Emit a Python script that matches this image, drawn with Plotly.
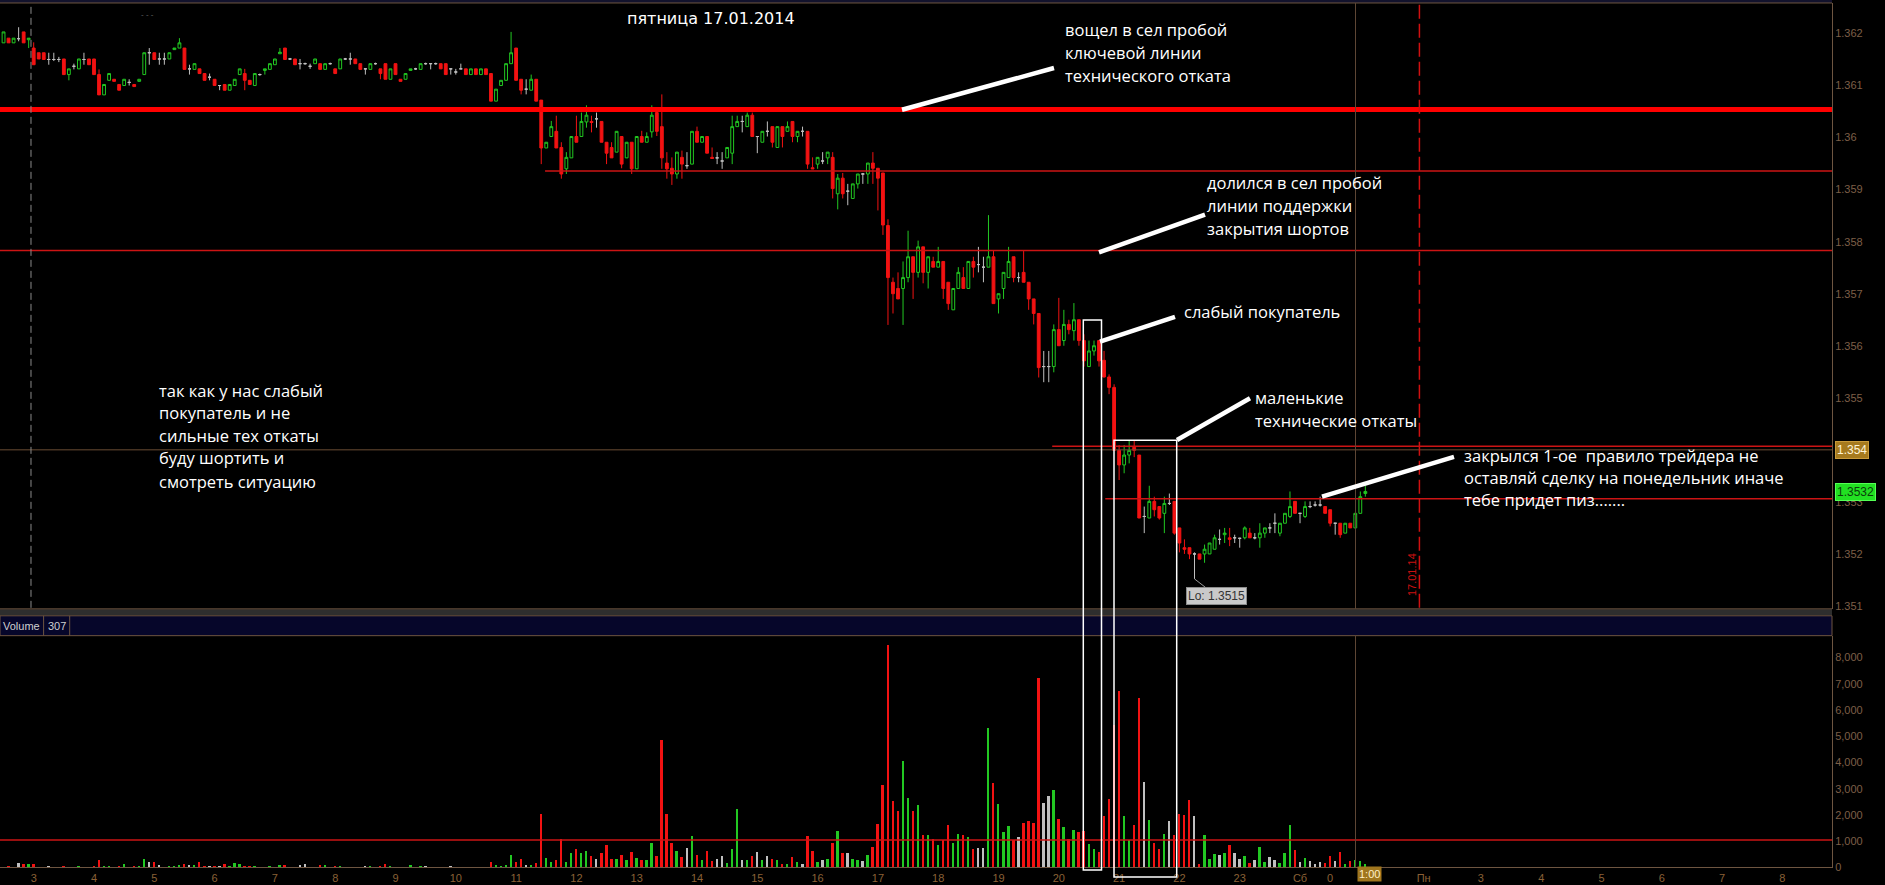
import plotly.graph_objects as go

W, H = 1885, 885

# ---------------- data (5-minute bars, EURUSD-like, Fri 17.01.2014) ----------------
START_HOUR = 2.5      # hour of the first bar
BAR_MINUTES = 5

OPEN = [
    1.36182, 1.36191, 1.36182, 1.36190, 1.36203, 1.36188, 1.36172, 1.36163, 1.36163, 1.36150,
    1.36150, 1.36150, 1.36151, 1.36121, 1.36137, 1.36132, 1.36150, 1.36151, 1.36151, 1.36121,
    1.36082, 1.36110, 1.36112, 1.36102, 1.36100, 1.36106, 1.36102, 1.36108, 1.36121, 1.36163,
    1.36163, 1.36151, 1.36151, 1.36151, 1.36169, 1.36172, 1.36172, 1.36132, 1.36131, 1.36132,
    1.36123, 1.36116, 1.36112, 1.36100, 1.36102, 1.36091, 1.36100, 1.36121, 1.36123, 1.36110,
    1.36100, 1.36121, 1.36129, 1.36131, 1.36140, 1.36161, 1.36172, 1.36151, 1.36151, 1.36142,
    1.36142, 1.36137, 1.36142, 1.36142, 1.36131, 1.36142, 1.36132, 1.36132, 1.36151, 1.36151,
    1.36151, 1.36142, 1.36132, 1.36131, 1.36142, 1.36132, 1.36142, 1.36112, 1.36142, 1.36112,
    1.36112, 1.36129, 1.36132, 1.36131, 1.36142, 1.36142, 1.36142, 1.36142, 1.36142, 1.36132,
    1.36126, 1.36132, 1.36132, 1.36121, 1.36132, 1.36121, 1.36132, 1.36123, 1.36070, 1.36100,
    1.36110, 1.36142, 1.36172, 1.36112, 1.36093, 1.36091, 1.36112, 1.36072, 1.35980, 1.36002,
    1.36012, 1.35981, 1.35940, 1.35961, 1.36002, 1.36002, 1.36030, 1.36031, 1.36036, 1.36031,
    1.35991, 1.35981, 1.35972, 1.36002, 1.35961, 1.35991, 1.35940, 1.36002, 1.35991, 1.36011,
    1.36048, 1.36021, 1.35951, 1.35941, 1.35930, 1.35962, 1.35946, 1.35949, 1.36012, 1.35991,
    1.36002, 1.35962, 1.35961, 1.35955, 1.35961, 1.35970, 1.36021, 1.36031, 1.36021, 1.36043,
    1.36002, 1.35991, 1.36012, 1.36021, 1.35981, 1.36021, 1.36012, 1.36031, 1.36002, 1.36012,
    1.36012, 1.35942, 1.35949, 1.35955, 1.35961, 1.35962, 1.35892, 1.35922, 1.35897, 1.35883,
    1.35911, 1.35930, 1.35930, 1.35951, 1.35941, 1.35932, 1.35831, 1.35722, 1.35710, 1.35710,
    1.35731, 1.35771, 1.35741, 1.35790, 1.35741, 1.35762, 1.35751, 1.35762, 1.35722, 1.35669,
    1.35710, 1.35731, 1.35710, 1.35762, 1.35756, 1.35751, 1.35751, 1.35771, 1.35690, 1.35710,
    1.35731, 1.35771, 1.35731, 1.35741, 1.35722, 1.35690, 1.35662, 1.35560, 1.35560, 1.35560,
    1.35631, 1.35610, 1.35641, 1.35629, 1.35650, 1.35610, 1.35560, 1.35590, 1.35610, 1.35572,
    1.35540, 1.35520, 1.35399, 1.35371, 1.35390, 1.35405, 1.35390, 1.35272, 1.35269, 1.35301,
    1.35291, 1.35278, 1.35297, 1.35301, 1.35250, 1.35212, 1.35212, 1.35200, 1.35200, 1.35200,
    1.35200, 1.35209, 1.35228, 1.35237, 1.35231, 1.35231, 1.35230, 1.35231, 1.35240, 1.35231,
    1.35231, 1.35240, 1.35250, 1.35259, 1.35240, 1.35259, 1.35272, 1.35301, 1.35278, 1.35272,
    1.35291, 1.35294, 1.35294, 1.35291, 1.35285, 1.35259, 1.35259, 1.35240, 1.35259, 1.35250,
    1.35278, 1.35316,
]

CLOSE = [
    1.36203, 1.36182, 1.36191, 1.36190, 1.36182, 1.36191, 1.36140, 1.36151, 1.36150, 1.36150,
    1.36150, 1.36150, 1.36121, 1.36132, 1.36137, 1.36151, 1.36150, 1.36140, 1.36121, 1.36082,
    1.36102, 1.36123, 1.36108, 1.36091, 1.36112, 1.36106, 1.36098, 1.36112, 1.36163, 1.36163,
    1.36150, 1.36151, 1.36151, 1.36163, 1.36172, 1.36182, 1.36131, 1.36132, 1.36142, 1.36123,
    1.36110, 1.36116, 1.36100, 1.36100, 1.36091, 1.36102, 1.36112, 1.36132, 1.36110, 1.36102,
    1.36123, 1.36121, 1.36132, 1.36142, 1.36151, 1.36164, 1.36150, 1.36151, 1.36140, 1.36142,
    1.36142, 1.36137, 1.36151, 1.36131, 1.36142, 1.36142, 1.36123, 1.36151, 1.36151, 1.36151,
    1.36142, 1.36131, 1.36132, 1.36142, 1.36142, 1.36123, 1.36112, 1.36132, 1.36121, 1.36108,
    1.36123, 1.36132, 1.36132, 1.36142, 1.36142, 1.36142, 1.36142, 1.36132, 1.36121, 1.36132,
    1.36126, 1.36132, 1.36121, 1.36132, 1.36121, 1.36132, 1.36121, 1.36070, 1.36093, 1.36110,
    1.36142, 1.36163, 1.36110, 1.36091, 1.36093, 1.36112, 1.36070, 1.35980, 1.35991, 1.36021,
    1.35980, 1.35930, 1.35962, 1.36002, 1.35991, 1.36031, 1.36043, 1.36029, 1.36036, 1.35991,
    1.35970, 1.35961, 1.36012, 1.35949, 1.35991, 1.35940, 1.36002, 1.35991, 1.36002, 1.36043,
    1.36012, 1.35961, 1.35940, 1.35930, 1.35972, 1.35949, 1.35946, 1.36012, 1.35991, 1.36002,
    1.35970, 1.35960, 1.35961, 1.35955, 1.35981, 1.36021, 1.36031, 1.36031, 1.36043, 1.36002,
    1.36002, 1.36012, 1.36012, 1.35991, 1.36021, 1.36002, 1.36021, 1.36002, 1.36012, 1.36012,
    1.35949, 1.35940, 1.35962, 1.35955, 1.35972, 1.35902, 1.35922, 1.35892, 1.35897, 1.35911,
    1.35930, 1.35930, 1.35951, 1.35941, 1.35922, 1.35832, 1.35731, 1.35700, 1.35690, 1.35731,
    1.35771, 1.35741, 1.35790, 1.35741, 1.35771, 1.35751, 1.35762, 1.35710, 1.35681, 1.35710,
    1.35741, 1.35710, 1.35762, 1.35751, 1.35756, 1.35751, 1.35771, 1.35681, 1.35700, 1.35741,
    1.35762, 1.35731, 1.35731, 1.35722, 1.35690, 1.35662, 1.35558, 1.35560, 1.35560, 1.35631,
    1.35600, 1.35641, 1.35631, 1.35650, 1.35610, 1.35571, 1.35590, 1.35600, 1.35571, 1.35540,
    1.35520, 1.35399, 1.35371, 1.35390, 1.35399, 1.35399, 1.35269, 1.35272, 1.35301, 1.35285,
    1.35269, 1.35297, 1.35297, 1.35240, 1.35221, 1.35209, 1.35200, 1.35200, 1.35190, 1.35209,
    1.35221, 1.35231, 1.35228, 1.35240, 1.35228, 1.35231, 1.35230, 1.35250, 1.35231, 1.35231,
    1.35240, 1.35250, 1.35250, 1.35259, 1.35259, 1.35278, 1.35291, 1.35278, 1.35278, 1.35291,
    1.35291, 1.35294, 1.35294, 1.35278, 1.35259, 1.35259, 1.35237, 1.35259, 1.35250, 1.35278,
    1.35310, 1.35320,
]

HIGH = [
    1.36203, 1.36191, 1.36191, 1.36212, 1.36203, 1.36191, 1.36183, 1.36163, 1.36163, 1.36163,
    1.36163, 1.36155, 1.36151, 1.36132, 1.36142, 1.36151, 1.36163, 1.36151, 1.36151, 1.36131,
    1.36102, 1.36123, 1.36112, 1.36102, 1.36112, 1.36112, 1.36102, 1.36112, 1.36163, 1.36172,
    1.36163, 1.36163, 1.36163, 1.36163, 1.36172, 1.36191, 1.36172, 1.36140, 1.36142, 1.36132,
    1.36123, 1.36123, 1.36112, 1.36100, 1.36102, 1.36102, 1.36112, 1.36132, 1.36132, 1.36110,
    1.36123, 1.36123, 1.36132, 1.36142, 1.36151, 1.36172, 1.36172, 1.36153, 1.36151, 1.36151,
    1.36144, 1.36142, 1.36151, 1.36142, 1.36142, 1.36144, 1.36132, 1.36151, 1.36153, 1.36163,
    1.36151, 1.36142, 1.36132, 1.36142, 1.36144, 1.36132, 1.36142, 1.36132, 1.36142, 1.36112,
    1.36123, 1.36132, 1.36134, 1.36142, 1.36144, 1.36142, 1.36144, 1.36142, 1.36142, 1.36132,
    1.36132, 1.36142, 1.36132, 1.36132, 1.36132, 1.36132, 1.36132, 1.36123, 1.36093, 1.36110,
    1.36142, 1.36203, 1.36172, 1.36112, 1.36112, 1.36121, 1.36112, 1.36072, 1.35991, 1.36032,
    1.36042, 1.35991, 1.35972, 1.36002, 1.36042, 1.36048, 1.36062, 1.36042, 1.36048, 1.36031,
    1.35991, 1.35991, 1.36012, 1.36002, 1.35991, 1.35991, 1.36002, 1.36013, 1.36010, 1.36062,
    1.36054, 1.36083, 1.35972, 1.35962, 1.35972, 1.35975, 1.35972, 1.36012, 1.36021, 1.36002,
    1.36002, 1.35981, 1.35972, 1.35972, 1.35981, 1.36042, 1.36042, 1.36042, 1.36048, 1.36048,
    1.36002, 1.36012, 1.36031, 1.36021, 1.36021, 1.36021, 1.36031, 1.36031, 1.36012, 1.36021,
    1.36012, 1.35962, 1.35962, 1.35972, 1.35972, 1.35972, 1.35930, 1.35932, 1.35911, 1.35911,
    1.35930, 1.35932, 1.35951, 1.35972, 1.35941, 1.35932, 1.35843, 1.35731, 1.35741, 1.35762,
    1.35821, 1.35771, 1.35802, 1.35790, 1.35771, 1.35771, 1.35790, 1.35762, 1.35722, 1.35710,
    1.35751, 1.35751, 1.35762, 1.35771, 1.35790, 1.35771, 1.35851, 1.35782, 1.35700, 1.35741,
    1.35790, 1.35771, 1.35741, 1.35782, 1.35722, 1.35690, 1.35662, 1.35590, 1.35590, 1.35641,
    1.35692, 1.35669, 1.35650, 1.35682, 1.35650, 1.35622, 1.35610, 1.35610, 1.35610, 1.35590,
    1.35545, 1.35526, 1.35409, 1.35409, 1.35418, 1.35418, 1.35390, 1.35291, 1.35331, 1.35310,
    1.35291, 1.35310, 1.35316, 1.35301, 1.35250, 1.35228, 1.35212, 1.35203, 1.35200, 1.35218,
    1.35221, 1.35237, 1.35247, 1.35250, 1.35250, 1.35237, 1.35231, 1.35253, 1.35250, 1.35240,
    1.35259, 1.35250, 1.35259, 1.35278, 1.35259, 1.35278, 1.35320, 1.35301, 1.35278, 1.35301,
    1.35301, 1.35301, 1.35310, 1.35291, 1.35285, 1.35259, 1.35259, 1.35259, 1.35259, 1.35278,
    1.35320, 1.35331,
]

LOW = [
    1.36182, 1.36182, 1.36182, 1.36185, 1.36182, 1.36172, 1.36140, 1.36151, 1.36150, 1.36140,
    1.36147, 1.36145, 1.36121, 1.36110, 1.36131, 1.36132, 1.36140, 1.36140, 1.36121, 1.36082,
    1.36082, 1.36110, 1.36108, 1.36091, 1.36100, 1.36100, 1.36098, 1.36108, 1.36121, 1.36140,
    1.36150, 1.36140, 1.36140, 1.36151, 1.36169, 1.36172, 1.36131, 1.36121, 1.36131, 1.36123,
    1.36110, 1.36110, 1.36100, 1.36091, 1.36091, 1.36091, 1.36100, 1.36121, 1.36091, 1.36102,
    1.36100, 1.36119, 1.36121, 1.36131, 1.36140, 1.36161, 1.36150, 1.36149, 1.36140, 1.36131,
    1.36140, 1.36132, 1.36142, 1.36131, 1.36131, 1.36140, 1.36123, 1.36132, 1.36149, 1.36140,
    1.36142, 1.36131, 1.36121, 1.36131, 1.36140, 1.36112, 1.36112, 1.36112, 1.36121, 1.36108,
    1.36112, 1.36129, 1.36130, 1.36131, 1.36140, 1.36131, 1.36140, 1.36132, 1.36121, 1.36121,
    1.36121, 1.36132, 1.36121, 1.36121, 1.36121, 1.36121, 1.36121, 1.36070, 1.36070, 1.36100,
    1.36110, 1.36142, 1.36110, 1.36083, 1.36083, 1.36091, 1.36070, 1.35949, 1.35980, 1.36002,
    1.35980, 1.35921, 1.35930, 1.35961, 1.35991, 1.36002, 1.36019, 1.36010, 1.36019, 1.35991,
    1.35949, 1.35961, 1.35972, 1.35941, 1.35961, 1.35930, 1.35940, 1.35991, 1.35991, 1.36000,
    1.36003, 1.35940, 1.35921, 1.35909, 1.35921, 1.35921, 1.35940, 1.35949, 1.35991, 1.35991,
    1.35970, 1.35959, 1.35949, 1.35940, 1.35961, 1.35949, 1.36021, 1.36010, 1.36021, 1.36002,
    1.35970, 1.35991, 1.36002, 1.35981, 1.35981, 1.35981, 1.36012, 1.35991, 1.35991, 1.36002,
    1.35940, 1.35940, 1.35940, 1.35949, 1.35949, 1.35883, 1.35862, 1.35883, 1.35870, 1.35883,
    1.35902, 1.35911, 1.35911, 1.35911, 1.35860, 1.35813, 1.35640, 1.35662, 1.35690, 1.35640,
    1.35722, 1.35690, 1.35731, 1.35720, 1.35710, 1.35751, 1.35751, 1.35690, 1.35669, 1.35669,
    1.35710, 1.35710, 1.35710, 1.35731, 1.35741, 1.35722, 1.35751, 1.35681, 1.35662, 1.35690,
    1.35731, 1.35722, 1.35722, 1.35722, 1.35669, 1.35641, 1.35539, 1.35530, 1.35530, 1.35549,
    1.35600, 1.35600, 1.35622, 1.35610, 1.35600, 1.35560, 1.35560, 1.35581, 1.35560, 1.35539,
    1.35507, 1.35399, 1.35342, 1.35355, 1.35374, 1.35386, 1.35269, 1.35240, 1.35269, 1.35272,
    1.35266, 1.35240, 1.35294, 1.35237, 1.35203, 1.35200, 1.35190, 1.35152, 1.35190, 1.35183,
    1.35200, 1.35209, 1.35218, 1.35221, 1.35215, 1.35221, 1.35212, 1.35228, 1.35231, 1.35228,
    1.35212, 1.35231, 1.35240, 1.35240, 1.35234, 1.35259, 1.35269, 1.35278, 1.35259, 1.35269,
    1.35288, 1.35291, 1.35291, 1.35278, 1.35253, 1.35237, 1.35231, 1.35240, 1.35250, 1.35250,
    1.35278, 1.35310,
]

VOLUME = [
    20, 30, 20, 164, 126, 152, 152, 20, 10, 50,
    10, 10, 50, 20, 10, 50, 10, 20, 63, 278,
    40, 30, 20, 30, 126, 20, 30, 40, 316, 215,
    215, 101, 20, 63, 63, 101, 150, 101, 101, 215,
    30, 63, 63, 63, 152, 63, 177, 152, 30, 63,
    30, 20, 20, 63, 20, 101, 101, 20, 20, 88,
    126, 20, 20, 101, 101, 20, 63, 63, 20, 20,
    20, 20, 63, 63, 20, 63, 152, 63, 20, 20,
    20, 101, 20, 63, 63, 20, 20, 20, 20, 63,
    20, 20, 20, 20, 20, 20, 20, 215, 101, 60,
    101, 480, 215, 316, 101, 101, 190, 2059, 379, 215,
    290, 1099, 215, 543, 695, 556, 632, 442, 341, 543,
    884, 316, 316, 467, 290, 594, 354, 290, 290, 947,
    429, 4863, 2059, 947, 632, 404, 770, 1225, 467, 290,
    632, 253, 341, 429, 177, 733, 2248, 290, 290, 442,
    594, 290, 442, 316, 290, 152, 126, 404, 215, 126,
    1200, 632, 215, 290, 316, 947, 1415, 543, 556, 316,
    290, 253, 467, 783, 1680, 3158, 8500, 2526, 2172, 4080,
    2678, 2147, 2400, 1263, 1263, 1099, 859, 1074, 1642, 947,
    1300, 1238, 1162, 733, 758, 758, 5343, 3220, 2438, 1364,
    1604, 1074, 1175, 1705, 1793, 1705, 7224, 2463, 2741, 2968,
    1869, 1553, 1111, 1452, 1364, 1415, 922, 733, 594, 1958,
    2627, 5431, 6757, 1958, 1074, 1642, 6466, 3284, 1831, 947,
    695, 1300, 1793, 1263, 2059, 2021, 2589, 1958, 152, 1238,
    316, 505, 467, 568, 859, 568, 341, 442, 189, 290,
    783, 227, 404, 290, 189, 568, 1617, 657, 215, 354,
    253, 152, 215, 189, 442, 253, 594, 152, 253, 278,
    253, 126,
]

# axis ticks (the 1.354 tick is covered by the gold price flag, as in the original)
PRICE_TICKS = [1.351, 1.352, 1.353, 1.355, 1.356, 1.357, 1.358, 1.359, 1.360, 1.361, 1.362]
PRICE_TICK_TEXT = ["1.351", "1.352", "1.353", "1.355", "1.356", "1.357", "1.358", "1.359", "1.36", "1.361", "1.362"]
VOL_TICKS = [0, 1000, 2000, 3000, 4000, 5000, 6000, 7000, 8000]
VOL_TICK_TEXT = ["0", "1,000", "2,000", "3,000", "4,000", "5,000", "6,000", "7,000", "8,000"]
HOUR_TICKS = [3, 4, 5, 6, 7, 8, 9, 10, 11, 12, 13, 14, 15, 16, 17, 18, 19, 20, 21, 22, 23,
              24, 24.5, 26.05, 27, 28, 29, 30, 31, 32]
HOUR_TICK_TEXT = ["3", "4", "5", "6", "7", "8", "9", "10", "11", "12", "13", "14", "15", "16", "17",
                  "18", "19", "20", "21", "22", "23", "Сб", "0", "Пн", "3", "4", "5", "6", "7", "8"]

# drawn price levels
THICK_LEVEL = 1.36054
LEVEL_PRICES = [1.35936, 1.35783, 1.35407, 1.35306]
LEVEL_START_HOURS = [11.48, None, 19.89, 20.77]
MARK_PRICE = 1.354          # gold label
LAST_PRICE = 1.3532         # green label
VOLUME_LEVEL = 1040
CURSOR_HOUR = 24.92
SESSION_HOUR = 25.98
DAY_HOUR = 2.955
LOW_BAR_INDEX = 237

# ---------------- styles ----------------
GREEN = "#22c822"
RED = "#f21212"
GRAY = "#c0c0c0"
AXIS_TXT = "#7d5f47"
XTXT = "#8a6036"
BORDER = "#6e5541"
LINE_RED = "#cc1414"

assert len(OPEN) == len(CLOSE) == len(HIGH) == len(LOW) == len(VOLUME)
N = len(OPEN)
X = [START_HOUR + i * BAR_MINUTES / 60.0 for i in range(N)]

groups = {"up": [], "down": [], "flat": []}
bar_colors = []
for i in range(N):
    if CLOSE[i] > OPEN[i] + 1e-9:
        groups["up"].append(i); bar_colors.append(GREEN)
    elif CLOSE[i] < OPEN[i] - 1e-9:
        groups["down"].append(i); bar_colors.append(RED)
    else:
        groups["flat"].append(i); bar_colors.append(GRAY)


def sub(arr, idx):
    return [arr[k] for k in idx]


def candle(idx, line_c, fill_c):
    return go.Candlestick(
        x=sub(X, idx), open=sub(OPEN, idx), high=sub(HIGH, idx), low=sub(LOW, idx), close=sub(CLOSE, idx),
        increasing=dict(line=dict(color=line_c, width=1), fillcolor=fill_c),
        decreasing=dict(line=dict(color=line_c, width=1), fillcolor=fill_c),
        whiskerwidth=0, xaxis="x", yaxis="y", hoverinfo="skip", showlegend=False,
    )


fig = go.Figure()
fig.add_trace(candle(groups["up"], GREEN, "#000000"))
fig.add_trace(candle(groups["down"], RED, RED))
fig.add_trace(candle(groups["flat"], GRAY, GRAY))
fig.add_trace(go.Bar(x=X, y=VOLUME, marker=dict(color=bar_colors, line=dict(width=0)),
                     width=0.032, xaxis="x2", yaxis="y2", hoverinfo="skip", showlegend=False))


def px(x):
    return x / W


def py(y):
    return 1 - y / H


X_DOM = [0, 1832 / W]
X_RANGE = [2.4411, 32.822]
tickfont = dict(family="Liberation Sans, Arial", size=11, color=AXIS_TXT)

fig.update_layout(
    width=W, height=H, margin=dict(l=0, r=0, t=0, b=0),
    paper_bgcolor="#000000", plot_bgcolor="#000000", showlegend=False,
    boxmode="overlay", boxgap=0.2, bargap=0,
    xaxis=dict(domain=X_DOM, range=X_RANGE, anchor="y", showticklabels=False, showgrid=False,
               zeroline=False, showline=False, ticks="", rangeslider=dict(visible=False)),
    yaxis=dict(domain=[py(613), py(3)], range=[1.350945, 1.362586], side="right", anchor="x",
               tickvals=PRICE_TICKS, ticktext=PRICE_TICK_TEXT, tickfont=tickfont, showgrid=False,
               zeroline=False, showline=True, linecolor=BORDER, linewidth=1, ticks=""),
    xaxis2=dict(domain=X_DOM, range=X_RANGE, anchor="y2", matches="x", tickvals=HOUR_TICKS,
                ticktext=HOUR_TICK_TEXT, tickfont=dict(family="Liberation Sans, Arial", size=11, color=XTXT),
                showgrid=False, zeroline=False, showline=True, linecolor=BORDER, linewidth=1, ticks=""),
    yaxis2=dict(domain=[py(873.3), py(640)], range=[0, 8837], side="right", anchor="x2",
                tickvals=VOL_TICKS, ticktext=VOL_TICK_TEXT, tickfont=tickfont, showgrid=False,
                zeroline=False, showline=True, linecolor=BORDER, linewidth=1, ticks=""),
)

shapes = []


def pline(x0, y0, x1, y1, color, width, dash=None):
    d = dict(type="line", xref="paper", yref="paper", x0=px(x0), y0=py(y0), x1=px(x1), y1=py(y1),
             line=dict(color=color, width=width))
    if dash:
        d["line"]["dash"] = dash
    shapes.append(d)


def prect(x0, y0, x1, y1, line_c=None, fill=None, width=1):
    shapes.append(dict(type="rect", xref="paper", yref="paper", x0=px(x0), y0=py(y0), x1=px(x1), y1=py(y1),
                       line=dict(color=line_c or "rgba(0,0,0,0)", width=width if line_c else 0),
                       fillcolor=fill or "rgba(0,0,0,0)", layer="above"))


# frame pieces
prect(0, 0, 1832, 3, fill="#12122c")
pline(0, 3, 1832, 3, BORDER, 1)
prect(0, 613.5, 1832, 619.5, fill="#2e2e2e")
pline(0, 613, 1832, 613, BORDER, 1)
prect(0, 620, 1832, 640, line_c=BORDER, fill="#06062a")
pline(43.6, 620, 43.6, 640, BORDER, 1)
pline(69.7, 620, 69.7, 640, BORDER, 1)

# price levels
shapes.append(dict(type="line", xref="x domain", yref="y", x0=0, x1=1, y0=THICK_LEVEL, y1=THICK_LEVEL,
                   line=dict(color="#ff0000", width=5)))
for p, h0 in zip(LEVEL_PRICES, LEVEL_START_HOURS):
    if h0 is None:
        shapes.append(dict(type="line", xref="x domain", yref="y", x0=0, x1=1, y0=p, y1=p,
                           line=dict(color=LINE_RED, width=1.5)))
    else:
        shapes.append(dict(type="line", xref="x", yref="y", x0=h0, x1=X_RANGE[1], y0=p, y1=p,
                           line=dict(color=LINE_RED, width=1.5)))
shapes.append(dict(type="line", xref="x domain", yref="y", x0=0, x1=1, y0=MARK_PRICE, y1=MARK_PRICE,
                   line=dict(color="#6a4c34", width=1)))
shapes.append(dict(type="line", xref="x2 domain", yref="y2", x0=0, x1=1, y0=VOLUME_LEVEL, y1=VOLUME_LEVEL,
                   line=dict(color=LINE_RED, width=1.5)))

# vertical markers
shapes.append(dict(type="line", xref="x", yref="paper", x0=CURSOR_HOUR, x1=CURSOR_HOUR, y0=py(613), y1=py(3),
                   line=dict(color="#5e4634", width=1)))
shapes.append(dict(type="line", xref="x", yref="paper", x0=CURSOR_HOUR, x1=CURSOR_HOUR, y0=py(873), y1=py(640),
                   line=dict(color="#5e4634", width=1)))
shapes.append(dict(type="line", xref="x", yref="paper", x0=SESSION_HOUR, x1=SESSION_HOUR, y0=py(612), y1=py(3),
                   line=dict(color="#d01010", width=1.5, dash="14px,5px")))
shapes.append(dict(type="line", xref="x", yref="paper", x0=DAY_HOUR, x1=DAY_HOUR, y0=py(612), y1=py(3),
                   line=dict(color="#8a8a8a", width=1, dash="7px,4px")))

# white pointer strokes and boxes
for (a, b, c, d) in [(902, 110.5, 1054, 68.5), (1099, 254, 1205, 216), (1100, 344, 1175, 319),
                     (1177, 443, 1250, 401), (1322, 500, 1454, 460)]:
    pline(a, b, c, d, "#ffffff", 4.5)
prect(1083.3, 322.3, 1101.5, 876, line_c="#ffffff", width=1.5)
prect(1114, 443.3, 1176.7, 883, line_c="#ffffff", width=1.5)

fig.update_layout(shapes=shapes)

ann = []
TXT = dict(family="Open Sans, Noto Sans, sans-serif", size=16.5, color="#ffffff")


def text(x, y, s, font=TXT, xanchor="left", **kw):
    d = dict(xref="paper", yref="paper", x=px(x), y=py(y), text=s, showarrow=False,
             xanchor=xanchor, yanchor="middle", font=font)
    d.update(kw)
    ann.append(d)


text(625, 18.5, "пятница 17.01.2014", font=dict(family="DejaVu Sans", size=16, color="#ffffff"))
for y, s in zip([30, 52.9, 75.7], ["вощел в сел пробой", "ключевой линии", "технического отката"]):
    text(1062.7, y, s)
for y, s in zip([184, 206.7, 230], ["долился в сел пробой", "линии поддержки", "закрытия шортов"]):
    text(1205, y, s)
text(1181.7, 313.3, "слабый покупатель")
for y, s in zip([400.7, 423.3], ["маленькие", "технические откаты"]):
    text(1252.7, y, s)
for y, s in zip([458.3, 480.7, 503.3], ["закрылся 1-ое  правило трейдера не",
                                         "оставляй сделку на понедельник иначе",
                                         "тебе придет пиз......."]):
    text(1461.7, y, s)
for y, s in zip([393.3, 415.7, 438.3, 460.7, 484.3],
                ["так как у нас слабый", "покупатель и не", "сильные тех откаты",
                 "буду шортить и", "смотреть ситуацию"]):
    text(156.7, y, s)

text(147, 15, "- - -", font=dict(family="Liberation Sans", size=8, color="#666666"), xanchor="center")

# rotated date label
text(1412, 579, "17.01.14", font=dict(family="Liberation Sans", size=11, color="#c81010"),
     xanchor="center", textangle=-90)

# right-side price flags
text(1834.5, 453, "1.354", font=dict(family="Liberation Sans", size=12, color="#fff4d6"),
     bgcolor="#a67a1e", bordercolor="#c89a3a", borderwidth=1, borderpad=1)
text(1834.5, 495, "1.3532", font=dict(family="Liberation Sans", size=12, color="#0b3d0b"),
     bgcolor="#22e022", bordercolor="#55ff55", borderwidth=1, borderpad=1)

# volume header labels
text(21.8, 630, "Volume", font=dict(family="Liberation Sans Narrow, Liberation Sans", size=11, color="#cfcfcf"),
     xanchor="center")
text(56.6, 630, "307", font=dict(family="Liberation Sans Narrow, Liberation Sans", size=11, color="#cfcfcf"),
     xanchor="center")

# time cursor flag
text(1369.5, 879.5, "1:00", font=dict(family="Liberation Sans", size=11, color="#fff0c8"),
     xanchor="center", bgcolor="#a0761e", borderpad=1)

# Lo label with connector to the lowest wick
ann.append(dict(xref="x", yref="y", x=X[LOW_BAR_INDEX], y=LOW[LOW_BAR_INDEX], text="Lo: 1.3515",
                showarrow=True, arrowhead=0, arrowwidth=1, arrowcolor="#9a9a9a", ax=22, ay=17,
                font=dict(family="Liberation Sans", size=12, color="#333333"),
                bgcolor="#c9c9c9", bordercolor="#8c8c8c", borderwidth=1, borderpad=1))

fig.update_layout(annotations=ann)

fig.write_html("out.html")
